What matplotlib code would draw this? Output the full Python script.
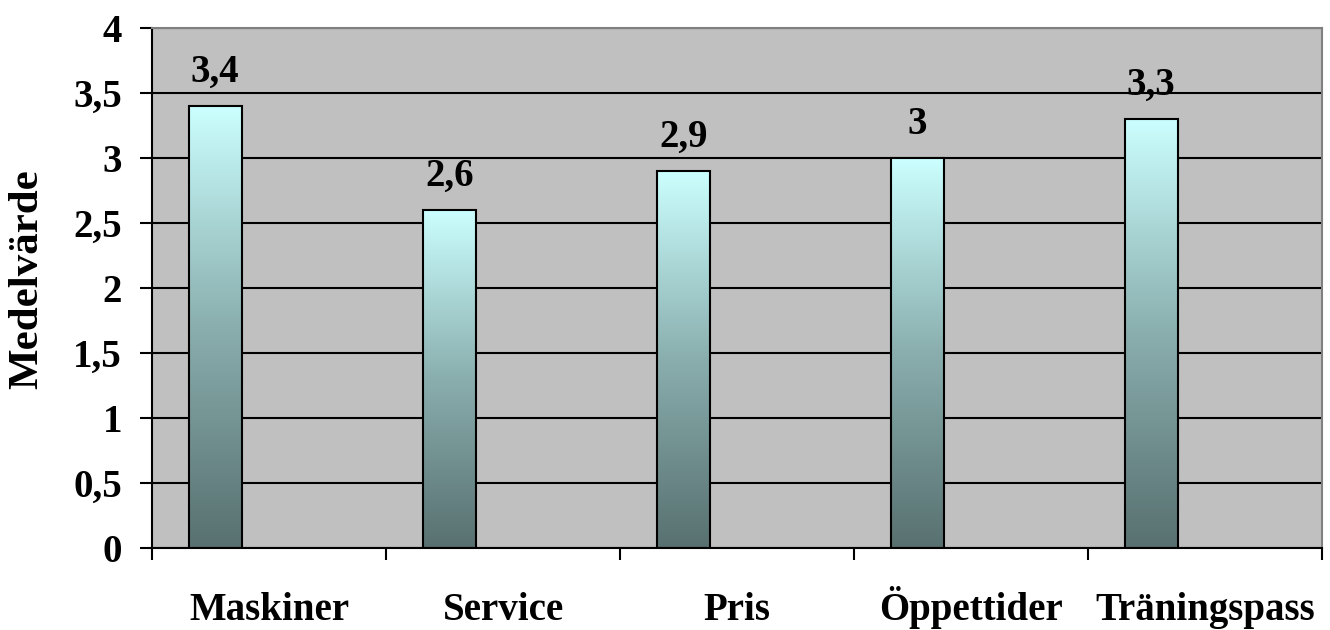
import numpy as np
import matplotlib
matplotlib.use("Agg")
import matplotlib.pyplot as plt
from matplotlib.colors import LinearSegmentedColormap

# average score per category
categories = ["Maskiner", "Service", "Pris", "Öppettider", "Träningspass"]
values = [3.4, 2.6, 2.9, 3.0, 3.3]
ytick_values = [0, 0.5, 1, 1.5, 2, 2.5, 3, 3.5, 4]
ytick_labels = ["0", "0,5", "1", "1,5", "2", "2,5", "3", "3,5", "4"]

plt.rcParams['font.family'] = ['Liberation Serif', 'DejaVu Serif']
plt.rcParams['font.weight'] = 'bold'

fig = plt.figure(figsize=(13.3, 6.3), dpi=100)
ax = fig.add_axes([0.1143, 0.1302, 0.8797, 0.8254])
ax.set_facecolor('#C0C0C0')

# bars sit left of the category centre, like a clustered bar with one series
offset = -0.23
width = 0.227
xpos = np.arange(len(categories)) + offset

cmap = LinearSegmentedColormap.from_list('bar', ['#587070', '#8AAEAE', '#CCFFFF'])
grad = np.linspace(0, 1, 256).reshape(-1, 1)

bars = ax.bar(xpos, values, width=width, facecolor='none', edgecolor='black',
              linewidth=1.5, zorder=3)
for b in bars:
    x0, y0 = b.get_x(), b.get_y()
    im = ax.imshow(grad, cmap=cmap, origin='lower', aspect='auto',
                   extent=[x0, x0 + b.get_width(), y0, y0 + b.get_height()], zorder=2)
    im.set_clip_path(b)

ax.bar_label(bars, labels=[f"{v:g}".replace('.', ',') for v in values],
             padding=11, fontsize=28, fontweight='bold')

ax.set_xlim(-0.5, len(categories) - 0.5)
ax.set_ylim(0, 4)

# horizontal gridlines
ax.set_yticks(ytick_values)
ax.set_yticklabels(ytick_labels, fontsize=28, fontweight='bold')
ax.yaxis.grid(True, color='black', linewidth=1.5)
ax.set_axisbelow(True)
ax.tick_params(axis='y', length=8.6, width=1.5, pad=13, direction='out')

# category labels in the middle, tick marks on the category boundaries
ax.set_xticks(np.arange(len(categories)))
ax.set_xticklabels(categories, fontsize=28, fontweight='bold')
for lbl in ax.get_xticklabels():
    lbl.set_verticalalignment('baseline')
ax.set_xticks(np.arange(len(categories) + 1) - 0.5, minor=True)
ax.tick_params(axis='x', which='major', length=0, pad=52)
ax.tick_params(axis='x', which='minor', length=8.6, width=1.5, direction='out')

ax.set_ylabel("Medelvärde", fontsize=31, fontweight='bold', va='center')
ax.yaxis.set_label_coords(-0.107, 0.517)

for side in ['left', 'bottom']:
    ax.spines[side].set_color('black')
    ax.spines[side].set_linewidth(1.5)
for side in ['top', 'right']:
    ax.spines[side].set_color('#808080')
    ax.spines[side].set_linewidth(1.5)

plt.savefig("out.png", dpi=100)
